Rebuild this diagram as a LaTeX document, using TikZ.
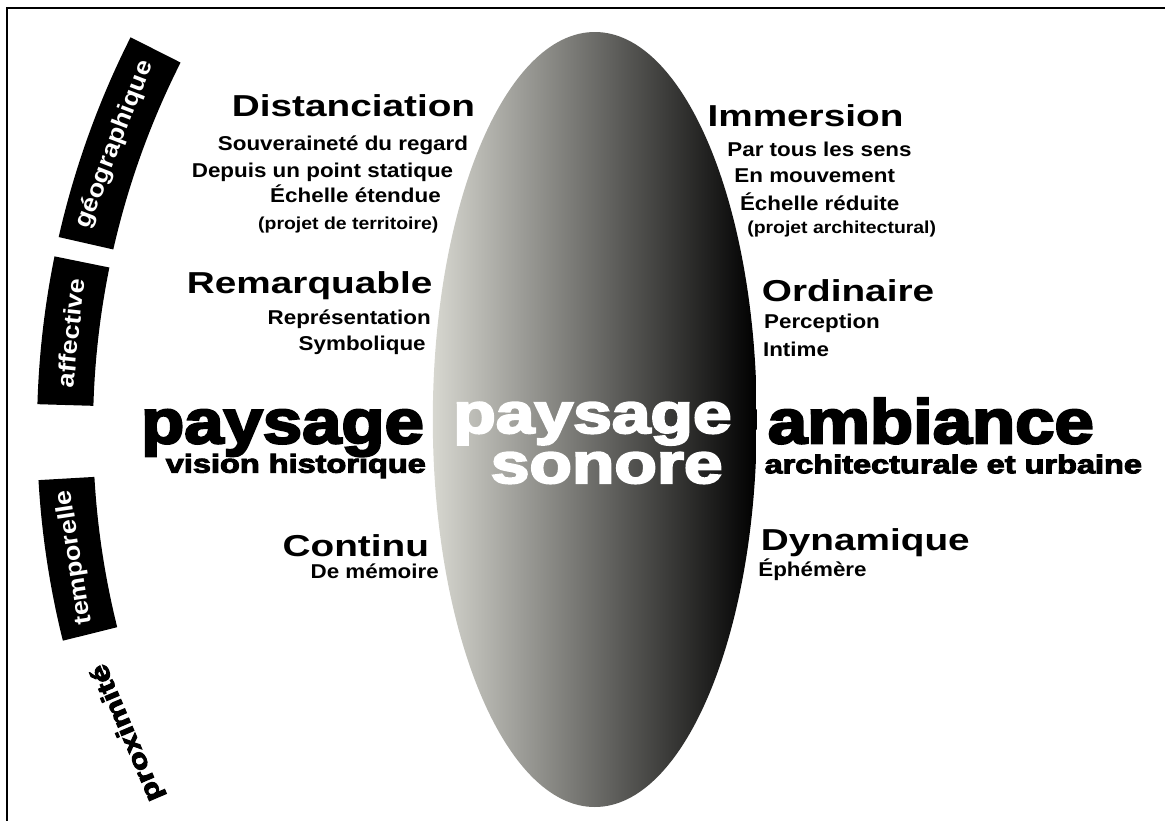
\documentclass[tikz,border=0pt]{standalone}
\usepackage{fontspec}
\setmainfont{Liberation Sans}
\newfontface\heavyface{Liberation Sans Bold}[FakeBold=3.5]
\usetikzlibrary{calc}
\definecolor{ovalLight}{HTML}{D7D7D0}
\definecolor{ovalDark}{HTML}{000000}
\definecolor{bandDark}{HTML}{000000}
\tikzset{
  word/.style={inner sep=0pt, anchor=base, text=black},
  headLabel/.style={word, font=\bfseries\fontsize{22.7}{26}\selectfont, xscale=1.28},
  subLabel/.style={word, font=\bfseries\fontsize{15}{18}\selectfont, xscale=1.12},
  noteLabel/.style={word, font=\bfseries\fontsize{13}{15}\selectfont, xscale=1.12},
  bigWord/.style={word, font=\heavyface\fontsize{46.9}{50}\selectfont, xscale=1.13},
  ovalWord/.style={word, text=white, font=\heavyface\fontsize{42.75}{46}\selectfont, xscale=1.22},
  bigSub/.style={word, font=\heavyface\fontsize{19.5}{22}\selectfont, xscale=1.25},
  band/.style={fill=bandDark},
  bandLabel/.style={inner sep=0pt, font=\bfseries\fontsize{18}{20}\selectfont, xscale=1.12}
}

\begin{document}
\begin{tikzpicture}[x=0.75pt, y=-0.75pt]
\useasboundingbox (0,0) rectangle (1165,821);

% ------------------------------------------------------------
% frame (top and left only)
% ------------------------------------------------------------
\draw[line width=1.5pt] (7,821) -- (7,8.3) -- (1165,8.3);

% ------------------------------------------------------------
% CENTRAL OVAL
% ------------------------------------------------------------
\shade[left color=ovalLight, right color=ovalDark]
  (594.8,419.5) ellipse [x radius=162, y radius=387.5];
\node[ovalWord] (sonA) at (592.5,433) {paysage};
\node[ovalWord] (sonB) at (606.7,483) {sonore};

% ------------------------------------------------------------
% LEFT SIDE
% ------------------------------------------------------------
\node[headLabel] (distTitle) at (353.5,116.7) {Distanciation};
\node[subLabel] (distA) at (343,150) {Souveraineté du regard};
\node[subLabel] (distB) at (322.5,177.3) {Depuis un point statique};
\node[subLabel] (distC) at (355.5,202.7) {Échelle étendue};
\node[noteLabel] (distD) at (348.3,229) {(projet de territoire)};

\node[headLabel] (remTitle) at (309.7,293.3) {Remarquable};
\node[subLabel] (remA) at (349.2,324.3) {Représentation};
\node[subLabel] (remB) at (362.2,350.7) {Symbolique};

\node[bigWord] (paysLeft) at (282.5,443.3) {paysage};
\node[bigSub] (paysSub) at (295.8,472.7) {vision historique};

\node[headLabel] (contTitle) at (355.8,556) {Continu};
\node[subLabel] (contA) at (374.7,578.7) {De mémoire};

% ------------------------------------------------------------
% RIGHT SIDE
% ------------------------------------------------------------
\node[headLabel] (immTitle) at (805.5,126.7) {Immersion};
\node[subLabel] (immA) at (819.5,156) {Par tous les sens};
\node[subLabel] (immB) at (814.7,182.7) {En mouvement};
\node[subLabel] (immC) at (819.7,210) {Échelle réduite};
\node[noteLabel] (immD) at (841.7,233) {(projet architectural)};

\node[headLabel] (ordTitle) at (848,301.7) {Ordinaire};
\node[subLabel] (ordA) at (822,328.3) {Perception};
\node[subLabel] (ordB) at (796,356) {Intime};

\node[bigWord] (ambTitle) at (930.8,443.3) {ambiance};
\node[bigSub] (ambSub) at (953.3,473.3) {architecturale et urbaine};

\node[headLabel] (dynTitle) at (865.3,550) {Dynamique};
\node[subLabel] (dynA) at (812.5,576.7) {Éphémère};

% ------------------------------------------------------------
% CURVED BANDS ON THE LEFT (common centre arcO)
% ------------------------------------------------------------
\coordinate (arcO) at (908,430);

\fill[band] ($(arcO)+(-153.2:871)$) arc[start angle=-153.2, end angle=-167.2, radius=871]
  -- ($(arcO)+(-167.2:815)$) arc[start angle=-167.2, end angle=-153.2, radius=815] -- cycle;
\node[rotate=69, bandLabel, text=white] (geoLabel) at ($(arcO)+(-160.2:843)$) {géographique};

\fill[band] ($(arcO)+(-168.5:871)$) arc[start angle=-168.5, end angle=-178.3, radius=871]
  -- ($(arcO)+(-178.3:815)$) arc[start angle=-178.3, end angle=-168.5, radius=815] -- cycle;
\node[rotate=84, bandLabel, text=white] (affLabel) at ($(arcO)+(-173.4:843)$) {affective};

\fill[band] ($(arcO)+(-183.3:871)$) arc[start angle=-183.3, end angle=-194, radius=871]
  -- ($(arcO)+(-194:815)$) arc[start angle=-194, end angle=-183.3, radius=815] -- cycle;
\node[rotate=98.7, bandLabel, text=white] (tempLabel) at ($(arcO)+(-188.7:843)$) {temporelle};

% no band behind the last one
\node[rotate=113, bandLabel, text=black, font=\heavyface\fontsize{19}{21}\selectfont, xscale=1.15]
  (proxLabel) at ($(arcO)+(-201.2:837)$) {proximité};

\end{tikzpicture}
\end{document}
